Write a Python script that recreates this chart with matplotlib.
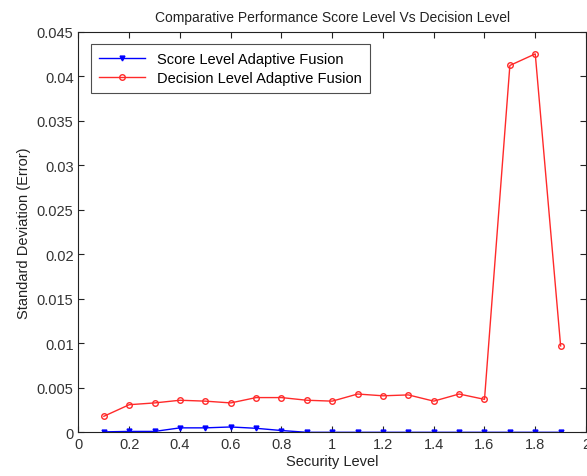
import matplotlib
matplotlib.use("Agg")
import matplotlib.pyplot as plt
import numpy as np

plt.rcParams["font.family"] = ["Liberation Sans", "DejaVu Sans"]

security_level = [0.1, 0.2, 0.3, 0.4, 0.5, 0.6, 0.7, 0.8, 0.9, 1.0,
                  1.1, 1.2, 1.3, 1.4, 1.5, 1.6, 1.7, 1.8, 1.9]

# Score level adaptive fusion (blue)
score_std = [0.00005, 0.0001, 0.0001, 0.0005, 0.0005, 0.0006, 0.00045, 0.0002, 0.0,
             0.0, 0.0, 0.0, 0.0, 0.0, 0.0, 0.0, 0.0, 0.0, 0.0]

# Decision level adaptive fusion (red)
decision_std = [0.0018, 0.0031, 0.0033, 0.0036, 0.0035, 0.0033, 0.0039, 0.0039, 0.0036,
                0.0035, 0.0043, 0.0041, 0.0042, 0.0035, 0.0043, 0.0037, 0.0412, 0.0425,
                0.0097]

x_ticks = np.arange(0, 2.01, 0.2)
x_tick_labels = ["0", "0.2", "0.4", "0.6", "0.8", "1", "1.2", "1.4", "1.6", "1.8", "2"]
y_ticks = np.arange(0, 0.0451, 0.005)
y_tick_labels = ["0", "0.005", "0.01", "0.015", "0.02", "0.025", "0.03",
                 "0.035", "0.04", "0.045"]

fig = plt.figure(figsize=(5.87, 4.77), dpi=100)
ax = fig.add_axes([0.1337, 0.0916, 0.8646, 0.840])

ax.plot(security_level, score_std, color="#0000ff", linewidth=1.0,
        marker="v", markersize=3.5, label="Score Level Adaptive Fusion")
ax.plot(security_level, decision_std, color="#ff2a2a", linewidth=1.0,
        marker="o", markersize=4, markerfacecolor="none",
        label="Decision Level Adaptive Fusion")

ax.set_xlim(0, 2)
ax.set_ylim(0, 0.045)
ax.set_xticks(x_ticks)
ax.set_xticklabels(x_tick_labels)
ax.set_yticks(y_ticks)
ax.set_yticklabels(y_tick_labels)
ax.tick_params(direction="in", top=True, right=True, labelsize=10.5,
               length=4, width=0.8, colors="#222222", labelcolor="#333333")
for spine in ax.spines.values():
    spine.set_linewidth(0.8)
    spine.set_color("#222222")

ax.set_xlabel("Security Level", fontsize=10.5, labelpad=2, color="#222222")
ax.set_ylabel("Standard Deviation (Error)", fontsize=10.5, labelpad=4,
              color="#222222")
ax.set_title("Comparative Performance Score Level Vs Decision Level",
             fontsize=10, pad=8, color="#222222")

leg = ax.legend(loc="upper left", fontsize=10.5, fancybox=False,
                frameon=True, bbox_to_anchor=(0.024, 0.97), borderaxespad=0,
                handlelength=3.2, borderpad=0.55, labelspacing=0.35)
leg.get_frame().set_edgecolor("#222222")
leg.get_frame().set_linewidth(0.8)

fig.savefig("out.png", dpi=100)
